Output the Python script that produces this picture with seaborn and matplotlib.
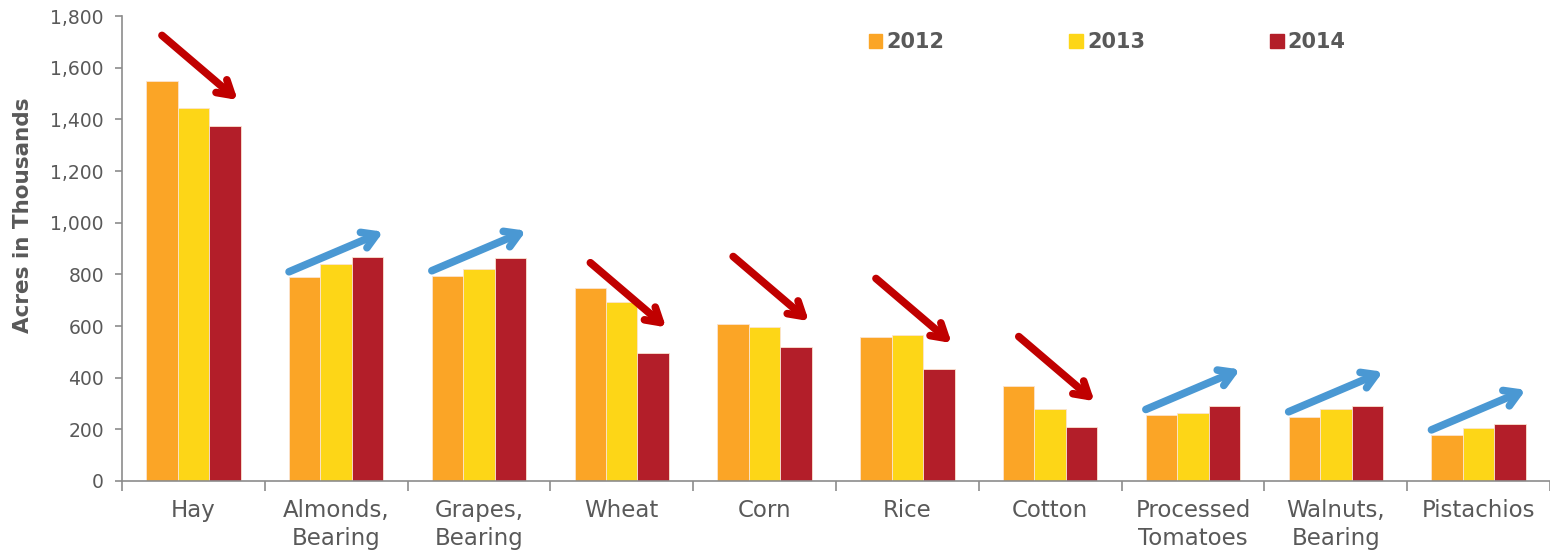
import pandas as pd
import matplotlib
matplotlib.use("Agg")
import matplotlib.pyplot as plt
import seaborn as sns

# === data ===
crops = ["Hay", "Almonds,\nBearing", "Grapes,\nBearing", "Wheat", "Corn", "Rice",
         "Cotton", "Processed\nTomatoes", "Walnuts,\nBearing", "Pistachios"]
years = ["2012", "2013", "2014"]
acres_2012 = [1550, 790, 794, 747, 608, 557, 368, 257, 248, 178]
acres_2013 = [1444, 840, 821, 692, 598, 565, 279, 265, 279, 205]
acres_2014 = [1375, 868, 863, 495, 519, 434, 209, 290, 290, 221]

colors = ["#FBA526", "#FDD617", "#B31E29"]
text_gray = "#595959"
axis_gray = "#8C8C8C"

df = pd.DataFrame({
    "crop": crops * 3,
    "year": [y for y in years for _ in crops],
    "acres": acres_2012 + acres_2013 + acres_2014,
})

sns.set_style("white")
plt.rcParams["font.family"] = ["DejaVu Sans"]

fig = plt.figure(figsize=(15.5, 5.53), dpi=100)
ax = fig.add_axes([0.0787, 0.1302, 0.9213, 0.8408])

sns.barplot(data=df, x="crop", y="acres", hue="year", palette=colors,
            width=0.66, gap=0, ax=ax, saturation=1, legend=False,
            edgecolor="#FBE3D0", linewidth=0.6)

ax.set_ylim(0, 1800)
ax.set_xlim(-0.5, 9.5)
ax.set_yticks(range(0, 1801, 200))
ax.set_yticklabels([f"{v:,}" for v in range(0, 1801, 200)], fontsize=13.5, color=text_gray)
ax.set_xticks(range(len(crops)))
ax.set_xticklabels(crops, fontsize=16.5, color=text_gray, linespacing=1.3)
ax.set_xticks([i + 0.5 for i in range(-1, len(crops))], minor=True)
ax.tick_params(axis="x", which="major", bottom=True, length=0, pad=13)
ax.tick_params(axis="x", which="minor", bottom=True, length=7, color=axis_gray, width=1.2)
ax.tick_params(axis="y", left=True, length=5, color=axis_gray, width=1.2, pad=8)

ax.set_xlabel("")
ax.set_ylabel("Acres in Thousands", fontsize=15.5, fontweight="bold", color=text_gray, labelpad=12)
ax.yaxis.set_label_coords(-0.062, 0.572)

for side in ["top", "right"]:
    ax.spines[side].set_visible(False)
for side in ["left", "bottom"]:
    ax.spines[side].set_color(axis_gray)
    ax.spines[side].set_linewidth(1.2)

# trend arrows
for i in range(len(crops)):
    v0, v1 = acres_2012[i], acres_2014[i]
    if v1 < v0:
        end = (i + 0.31, v1 + 100)
        start = (i - 0.22, end[1] + 250)
        col = "#C00000"
    else:
        start = (i - 0.33, v0 + 20)
        end = (i + 0.33, start[1] + 155)
        col = "#4A98D3"
    ax.annotate("", xy=end, xytext=start,
                arrowprops=dict(arrowstyle="->,head_length=1.0,head_width=0.6",
                                color=col, lw=5.5, capstyle="round",
                                shrinkA=0, shrinkB=0))

# legend
handles = [plt.Rectangle((0, 0), 1, 1, color=c) for c in colors]
leg = fig.legend(handles, years, loc="center left", bbox_to_anchor=(0.555, 0.924),
                 ncol=3, frameon=False, handlelength=0.65, handleheight=0.65,
                 handletextpad=0.2, columnspacing=6.0, borderaxespad=0,
                 prop={"size": 15, "weight": "bold"})
for t in leg.get_texts():
    t.set_color(text_gray)

fig.savefig("out.png", dpi=100)
